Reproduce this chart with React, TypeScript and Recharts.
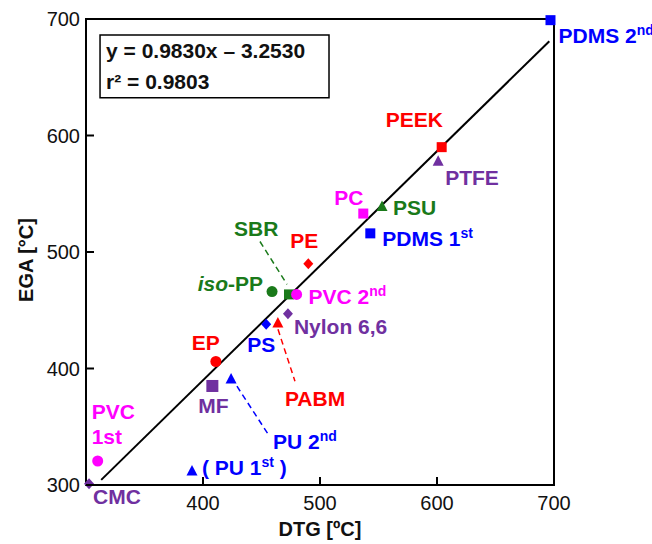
import { ScatterChart, Scatter, XAxis, YAxis, ReferenceArea, Label } from 'recharts';

// materials: DTG peak (x) vs EGA peak (y), both in ºC
const materials = ['PDMS 2nd', 'PEEK', 'PTFE', 'PSU', 'PC', 'PDMS 1st', 'PE', 'SBR', 'iso-PP', 'PVC 2nd',
  'Nylon 6,6', 'PS', 'PABM', 'EP', 'MF', 'PU 2nd', 'PU 1st', 'PVC 1st', 'CMC'];
const dtgValues = [697, 604, 601, 553, 537, 543, 490, 473.5, 459, 480, 472.6, 454, 464, 411, 408, 424, 390.6, 310, 302.6];
const egaValues = [699, 590, 578, 539, 533, 516, 490, 463.6, 466, 463.6, 447, 438, 439, 406, 385, 391, 312, 320.6, 301];

// fitted line end points
const fitDtg = [313, 696];
const fitEga = [304.4, 680.9];
const slope = '0.9830';
const intercept = '3.2530';
const rSquared = '0.9803';

// dashed leaders from label to point
const leaders = [
  { name: 'SBR', dtg: [448.7, 471.8], ega: [509, 472.2] },
  { name: 'PABM', dtg: [464.1, 478.6], ega: [433.6, 389.1] },
  { name: 'PU 2nd', dtg: [429, 455.6], ega: [384.8, 343.7] },
];

const xTicks = [400, 500, 600, 700];
const yTicks = [300, 400, 500, 600, 700];

const RED = '#ff0000';
const MAGENTA = '#ff00ff';
const BLUE = '#0000ff';
const GREEN = '#1a7a1a';
const PURPLE = '#7030a0';
const FONT = '"Liberation Sans", Arial, sans-serif';

type Marker = { shape: 'square' | 'circle' | 'triangle' | 'diamond'; color: string; size?: number };

const markers: Record<string, Marker> = {
  'PDMS 2nd': { shape: 'square', color: BLUE },
  PEEK: { shape: 'square', color: RED },
  PTFE: { shape: 'triangle', color: PURPLE },
  PSU: { shape: 'triangle', color: GREEN },
  PC: { shape: 'square', color: MAGENTA },
  'PDMS 1st': { shape: 'square', color: BLUE },
  PE: { shape: 'diamond', color: RED },
  SBR: { shape: 'square', color: GREEN },
  'iso-PP': { shape: 'circle', color: GREEN },
  'PVC 2nd': { shape: 'circle', color: MAGENTA },
  'Nylon 6,6': { shape: 'diamond', color: PURPLE },
  PS: { shape: 'diamond', color: BLUE },
  PABM: { shape: 'triangle', color: RED },
  EP: { shape: 'circle', color: RED },
  MF: { shape: 'square', color: PURPLE, size: 12 },
  'PU 2nd': { shape: 'triangle', color: BLUE },
  'PU 1st': { shape: 'triangle', color: BLUE },
  'PVC 1st': { shape: 'circle', color: MAGENTA },
  CMC: { shape: 'diamond', color: PURPLE },
};

// label placement relative to the point, in px
const labelPos: Record<string, { dx: number; dy: number; anchor?: string }> = {
  'PDMS 2nd': { dx: 8, dy: 23 },
  PEEK: { dx: -56, dy: -20 },
  PTFE: { dx: 7, dy: 24 },
  PSU: { dx: 11, dy: 8 },
  PC: { dx: -29, dy: -9 },
  'PDMS 1st': { dx: 12, dy: 13 },
  PE: { dx: -18, dy: -16 },
  SBR: { dx: -55, dy: -58 },
  'iso-PP': { dx: -9, dy: -1, anchor: 'end' },
  'PVC 2nd': { dx: 12, dy: 10 },
  'Nylon 6,6': { dx: 6, dy: 20 },
  PS: { dx: -19, dy: 28 },
  PABM: { dx: 7, dy: 83 },
  EP: { dx: -24, dy: -12 },
  MF: { dx: -14, dy: 27 },
  'PU 2nd': { dx: 42, dy: 70 },
  'PU 1st': { dx: 10, dy: 4 },
  'PVC 1st': { dx: -6, dy: -42 },
  CMC: { dx: 4, dy: 20 },
};

const points = materials.map((name, i) => ({ name, dtg: dtgValues[i], ega: egaValues[i] }));
const fitLine = fitDtg.map((d, i) => ({ dtg: d, ega: fitEga[i] }));

const Sup = ({ children }: { children: string }) => (
  <tspan fontSize={14} dy={-8}>{children}</tspan>
);

function labelText(name: string, x: number) {
  switch (name) {
    case 'PDMS 2nd':
      return <>PDMS 2<Sup>nd</Sup></>;
    case 'PDMS 1st':
      return <>PDMS 1<Sup>st</Sup></>;
    case 'PVC 2nd':
      return <>PVC 2<Sup>nd</Sup></>;
    case 'PU 2nd':
      return <>PU 2<Sup>nd</Sup></>;
    case 'PU 1st':
      return <>( PU 1<Sup>st</Sup><tspan dy={8}> )</tspan></>;
    case 'iso-PP':
      return <><tspan fontStyle="italic">iso</tspan>-PP</>;
    case 'PVC 1st':
      return <>PVC<tspan x={x} dy={25}>1st</tspan></>;
    default:
      return name;
  }
}

function MarkerShape(props: any) {
  const { cx, cy, payload } = props;
  const m = markers[payload.name];
  const lp = labelPos[payload.name];
  const s = m.size ?? 10;
  let mark;
  if (m.shape === 'square') {
    mark = <rect x={cx - s / 2} y={cy - s / 2} width={s} height={s} fill={m.color} />;
  } else if (m.shape === 'circle') {
    mark = <circle cx={cx} cy={cy} r={5.5} fill={m.color} />;
  } else if (m.shape === 'triangle') {
    mark = <polygon points={`${cx},${cy - 6} ${cx + 5.5},${cy + 4.5} ${cx - 5.5},${cy + 4.5}`} fill={m.color} />;
  } else {
    mark = <polygon points={`${cx},${cy - 5.5} ${cx + 5},${cy} ${cx},${cy + 5.5} ${cx - 5},${cy}`} fill={m.color} />;
  }
  const lx = cx + lp.dx;
  return (
    <g>
      {mark}
      <text x={lx} y={cy + lp.dy} textAnchor={lp.anchor ?? 'start'} fill={m.color}
        fontSize={21} fontWeight="bold" fontFamily={FONT}>
        {labelText(payload.name, lx)}
      </text>
    </g>
  );
}

const XTick = ({ x, y, payload }: any) => (
  <g>
    <line x1={x} x2={x} y1={y} y2={y - 8} stroke="#000" strokeWidth={2} />
    <text x={x} y={y + 25} textAnchor="middle" fontSize={20} fill="#111" fontFamily={FONT}>{payload.value}</text>
  </g>
);

const YTick = ({ x, y, payload }: any) => (
  <g>
    <line x1={x} x2={x + 8} y1={y} y2={y} stroke="#000" strokeWidth={2} />
    <text x={x - 6} y={y + 7} textAnchor="end" fontSize={20} fill="#111" fontFamily={FONT}>{payload.value}</text>
  </g>
);

const EquationText = ({ viewBox }: any) => (
  <g fontFamily={FONT} fontSize={21} fontWeight="bold" fill="#111">
    <text x={viewBox.x + 6} y={viewBox.y + 23}>{`y = ${slope}x \u2013 ${intercept}`}</text>
    <text x={viewBox.x + 6} y={viewBox.y + 54}>{`r\u00b2 = ${rSquared}`}</text>
  </g>
);

const XTitle = ({ viewBox }: any) => (
  <text x={viewBox.x + viewBox.width / 2} y={viewBox.y + 51} textAnchor="middle"
    fontFamily={FONT} fontSize={20} fontWeight="bold" fill="#111">DTG [ºC]</text>
);

const YTitle = ({ viewBox }: any) => {
  const cy = viewBox.y + viewBox.height / 2 + 8;
  return (
    <text x={33} y={cy} transform={`rotate(-90 33 ${cy})`} textAnchor="middle"
      fontFamily={FONT} fontSize={20} fontWeight="bold" fill="#111">EGA [°C]</text>
  );
};

const noDot = () => <g />;

export default function App() {
  return (
    <div style={{ position: 'absolute', left: 0, top: 0, width: 652, height: 544, background: '#fff', fontFamily: FONT }}>
      <ScatterChart width={652} height={544} margin={{ top: 19, right: 98, bottom: 0, left: 0 }}>
        <XAxis type="number" dataKey="dtg" domain={[300, 700]} ticks={xTicks} height={59}
          axisLine={false} tickLine={false} tickSize={0} tickMargin={0} tick={<XTick />}>
          <Label content={<XTitle />} />
        </XAxis>
        <YAxis type="number" dataKey="ega" domain={[300, 700]} ticks={yTicks} width={86}
          axisLine={false} tickLine={false} tickSize={0} tickMargin={0} tick={<YTick />}>
          <Label content={<YTitle />} />
        </YAxis>
        <ReferenceArea x1={300} x2={700} y1={300} y2={700} fill="none" stroke="#000" strokeWidth={2} />
        <ReferenceArea x1={312} x2={507.7} y1={632.3} y2={686.3} fill="#fff" fillOpacity={1}
          stroke="#000" strokeWidth={1.5}>
          <Label content={<EquationText />} />
        </ReferenceArea>
        <Scatter data={fitLine} line={{ stroke: '#000', strokeWidth: 2 }} shape={noDot} isAnimationActive={false} />
        {leaders.map((l) => (
          <Scatter key={l.name}
            data={l.dtg.map((d, i) => ({ dtg: d, ega: l.ega[i] }))}
            line={{ stroke: markers[l.name].color, strokeWidth: 1.5, strokeDasharray: '6 4' }}
            shape={noDot} isAnimationActive={false} />
        ))}
        <Scatter data={points} shape={MarkerShape} isAnimationActive={false} />
      </ScatterChart>
    </div>
  );
}
